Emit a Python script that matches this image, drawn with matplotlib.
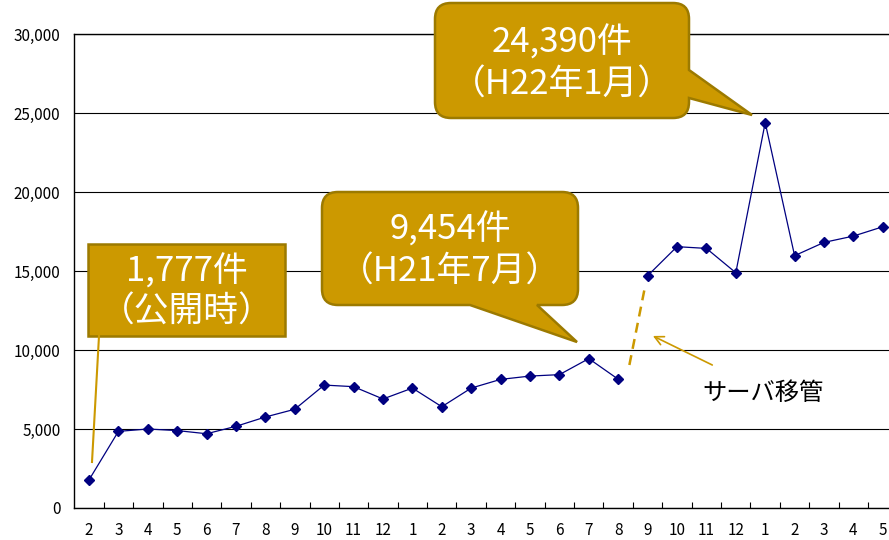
import numpy as np
import matplotlib
matplotlib.use('Agg')
import matplotlib.pyplot as plt
from matplotlib.path import Path
from matplotlib.patches import PathPatch, Rectangle

plt.rcParams['font.family'] = ['Noto Sans CJK JP', 'DejaVu Sans']

# monthly counts, Feb of year 1 through May of year 3
months = [2, 3, 4, 5, 6, 7, 8, 9, 10, 11, 12,
          1, 2, 3, 4, 5, 6, 7, 8, 9, 10, 11, 12,
          1, 2, 3, 4, 5]
counts = [1777, 4850, 5000, 4900, 4700, 5170, 5760, 6250, 7780, 7680, 6900,
          7590, 6410, 7590, 8140, 8350, 8440, 9454, 8150, 14700, 16540, 16430, 14890,
          24390, 15970, 16810, 17210, 17800]
move_idx = 19  # first month after the server move
yticks = [0, 5000, 10000, 15000, 20000, 25000, 30000]

gold = '#CC9900'
gold_edge = '#9C7A00'
navy = '#000080'

W, H = 889, 540
fig = plt.figure(figsize=(W / 100, H / 100), dpi=100)

step = 29.4
ax = fig.add_axes([74.3 / W, 32 / H, len(months) * step / W, 474 / H])
x = np.arange(len(months))
ax.plot(x[:move_idx], counts[:move_idx], color=navy, lw=0.9,
        marker='D', ms=5, zorder=3)
ax.plot(x[move_idx:], counts[move_idx:], color=navy, lw=0.9,
        marker='D', ms=5, zorder=3)

ax.set_xlim(-0.5, len(months) - 0.5)
ax.set_ylim(0, 30000)
ax.set_yticks(yticks)
ax.set_yticklabels([f'{v:,}' for v in yticks], fontsize=11)
ax.set_xticks(x)
ax.set_xticklabels([str(m) for m in months], fontsize=11)
ax.set_xticks(x[:-1] + 0.5, minor=True)
ax.tick_params(axis='x', which='major', length=0, pad=10)
ax.tick_params(axis='x', which='minor', length=4, direction='in', width=0.8)
ax.tick_params(axis='y', length=0, pad=10)
ax.grid(axis='y', color='black', lw=0.8)
ax.set_axisbelow(True)
ax.spines['right'].set_visible(False)
for s in ['left', 'bottom', 'top']:
    ax.spines[s].set_linewidth(1.0)

# server move: dashed link, arrow and label
ax.plot([18.38, 18.89], [9050, 13800], color=gold, lw=1.8, ls=(0, (4, 2.6)))
ax.annotate('', xy=(19.18, 10890), xytext=(21.2, 9050),
            arrowprops=dict(arrowstyle='->', color=gold, lw=1.2,
                            mutation_scale=16, shrinkA=0, shrinkB=0))
ax.text(22.93, 7250, 'サーバ移管', fontsize=17.5, ha='center', va='center')

# overlay in pixel coordinates for the callouts
ov = fig.add_axes([0, 0, 1, 1], zorder=5)
ov.set_xlim(0, W)
ov.set_ylim(H, 0)
ov.axis('off')


def callout_path(x0, y0, x1, y1, r, tail_side, base_a, base_b, tip):
    verts, codes = [], []

    def move(p):
        verts.append(p); codes.append(Path.MOVETO)

    def line(p):
        verts.append(p); codes.append(Path.LINETO)

    def curve(c, p):
        verts.extend([c, p]); codes.extend([Path.CURVE3, Path.CURVE3])

    move((x0 + r, y0))
    line((x1 - r, y0))
    curve((x1, y0), (x1, y0 + r))
    if tail_side == 'right':
        line((x1, base_a)); line(tip); line((x1, base_b))
    line((x1, y1 - r))
    curve((x1, y1), (x1 - r, y1))
    if tail_side == 'bottom':
        line((base_a, y1)); line(tip); line((base_b, y1))
    line((x0 + r, y1))
    curve((x0, y1), (x0, y1 - r))
    line((x0, y0 + r))
    curve((x0, y0), (x0 + r, y0))
    verts.append((x0 + r, y0)); codes.append(Path.CLOSEPOLY)
    return Path(verts, codes)


def two_lines(cx, ya, yb, top, bottom):
    ov.text(cx, ya, top, color='white', fontsize=25, ha='center', va='center')
    ov.text(cx, yb, bottom, color='white', fontsize=25, ha='center', va='center')


# launch value
ov.plot([99, 92], [336, 462], color=gold, lw=1.5)
ov.add_patch(Rectangle((88, 244), 197, 92, facecolor=gold,
                       edgecolor=gold_edge, lw=1.8))
two_lines(186.5, 272, 312, f'{counts[0]:,}件', '（公開時）')

# July H21
ov.add_patch(PathPatch(callout_path(322, 192, 578, 305, 16, 'bottom',
                                    537, 470, (577, 342)),
                       facecolor=gold, edgecolor=gold_edge, lw=1.8))
two_lines(450, 230, 272, f'{counts[17]:,}件', '（H21年7月）')

# January H22
ov.add_patch(PathPatch(callout_path(435, 3, 689, 118, 16, 'right',
                                    70, 98, (752, 115)),
                       facecolor=gold, edgecolor=gold_edge, lw=1.8))
two_lines(562, 43, 85, f'{counts[23]:,}件', '（H22年1月）')

fig.savefig('out.png', dpi=100)
